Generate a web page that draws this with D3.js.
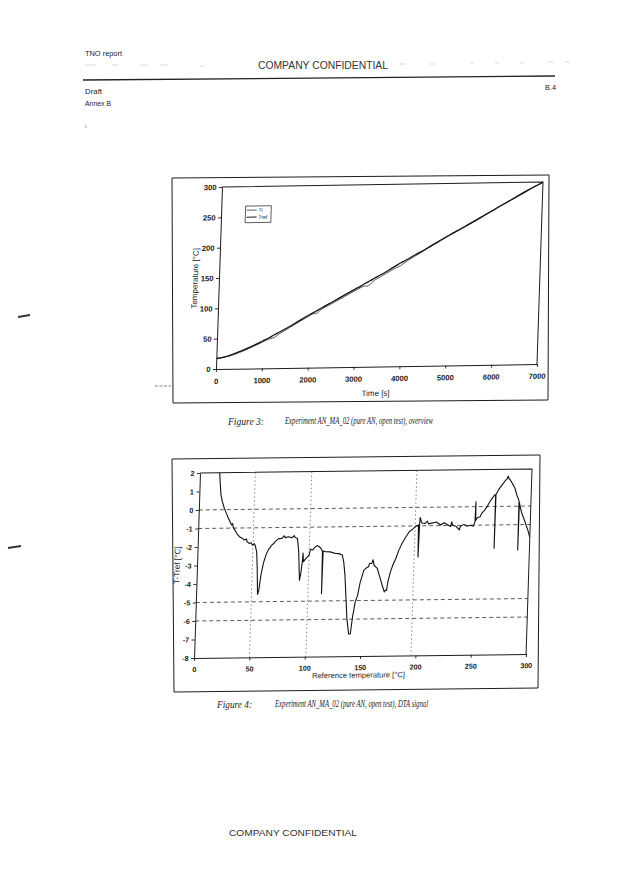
<!DOCTYPE html>
<html><head><meta charset="utf-8">
<script src="https://cdn.jsdelivr.net/npm/d3@7"></script>
<style>body{margin:0;background:#fff}svg{display:block}</style>
</head><body><svg id="page" width="620" height="877"></svg>
<script>
// ---------- Figure 3 data (time [s] vs temperature [°C]) ----------
const timeS = [0,250,500,750,1000,1150,1250,1350,1500,1750,2000,2100,2150,2250,2500,2750,3000,3100,3200,3250,3300,3400,3500,3750,3850,3950,4050,4250,4500,4750,5000,5250,5500,5750,6000,6250,6500,6750,7000];
const tRef  = [17,21,28,36,45,50.5,55,59,65,76,87,91,93,97.5,108,118.5,129,133,137.5,139.5,141.5,146,150,161,165.5,170,174,182.5,193,204,215,225.5,236,247,258,268.5,279,289.5,300];
const tI    = [17.8,20.5,26.5,34.5,43.3,48.5,50.5,56,63,74.2,85.2,89,89.2,95.2,105.6,116,126.5,130.5,133,132.8,135.5,142.5,146.8,158,162,165.5,171,180.5,192,203.2,214.2,224.5,235,246,257,268.3,280.2,290.5,298.5];
const tempTicks = [0,50,100,150,200,250,300];
const timeTicks = [0,1000,2000,3000,4000,5000,6000,7000];
const legendNames = ["Ti","Tref"];

// ---------- Figure 4 data (reference temperature [°C] vs T-Tref [°C]) ----------
const dtaRefTemp = [17,17.8,18.5,19.6,21,23,25,27,30,31,31.5,33,35,37.5,40,42,44,44.5,46.5,48,49.5,51,52,53.5,54.5,55.5,56.5,58,60,62,64,67,69,70,73,76,78,79,82,85,87,88,90,91.5,93,94,95,95.5,96,98,101,102,104,106,108,110,112,113,113.3,113.6,116,120,125,128,131,132.5,134,135.5,137,139,140.5,142,144,146,148,151,153,155,156,158,159,160,163,166,168,170,171,172,173,175,177,179.5,182,184,186,189,191,194,196,199,199.5,200,200.3,202,205,207,208,212,215,219,222,225,228,229,230,233,236,237,240,243,246,248.5,250,250.3,250.6,252,254.4,256,258.6,261,263,265,267.3,267.9,268,268.2,270,271.5,274,276,278,278.7,279.5,280.3,282.5,285,287.4,289.2,289.4,289.6,290.3,291.9,295,298.4,300];
const dtaDiff    = [2.6,2.0,1.5,0.8,0.45,0.08,-0.2,-0.46,-0.83,-0.75,-0.95,-1.1,-1.3,-1.47,-1.55,-1.65,-1.6,-1.75,-1.84,-1.8,-1.93,-1.85,-1.95,-2.3,-3.2,-4.6,-4.4,-3.57,-2.9,-2.48,-2.2,-1.94,-1.85,-1.76,-1.6,-1.59,-1.45,-1.55,-1.5,-1.56,-1.45,-1.55,-1.6,-2.32,-3.86,-3.5,-2.9,-2.4,-2.87,-2.7,-2.51,-2.2,-2.24,-2.1,-2.0,-2.06,-2.2,-2.33,-4.6,-2.3,-2.34,-2.35,-2.44,-2.45,-2.53,-2.9,-3.62,-4.8,-5.98,-6.8,-6.8,-5.9,-5.08,-4.72,-4.0,-3.36,-3.25,-3.18,-3.0,-3.0,-2.8,-3.1,-3.27,-3.83,-4.2,-4.55,-4.45,-4.47,-4.0,-3.47,-3.1,-2.75,-2.3,-2.03,-1.8,-1.49,-1.3,-1.17,-1.05,-0.95,-2.68,-0.95,-0.55,-0.85,-0.87,-0.75,-0.9,-0.85,-0.8,-0.97,-0.85,-0.95,-1.06,-0.8,-1.0,-1.05,-1.25,-1.05,-0.95,-1.05,-1.0,-1.05,-0.82,0.27,-0.75,-0.6,-0.55,-0.35,-0.18,0.05,0.27,0.45,0.64,0.6,-2.26,0.65,0.85,1.0,1.2,1.37,1.5,1.64,1.5,1.46,1.25,1.0,0.55,0.3,-2.37,0.2,0.0,-0.36,-0.82,-1.37,-1.7];
const dtaYTicks = [2,1,0,-1,-2,-3,-4,-5,-6,-7,-8];
const dtaXTicks = [0,50,100,150,200,250,300];
const dtaHLines = [0,-1,-5,-6];
const dtaVLines = [50,101,196];

// ---------- page ----------
const ink = "#1c1c1c";
const svg = d3.select("#page");
svg.append("rect").attr("width",620).attr("height",877).attr("fill","#fff");
const sans = "'Liberation Sans', Arial, sans-serif";
const serif = "'Liberation Serif', 'Times New Roman', serif";

function txt(sel, x, y, s, size, opts={}) {
  const t = sel.append("text").attr("x",x).attr("y",y).text(s)
    .attr("font-family", opts.family || sans).attr("font-size", size)
    .attr("fill", opts.fill || ink);
  if (opts.anchor) t.attr("text-anchor", opts.anchor);
  if (opts.italic) t.attr("font-style","italic");
  if (opts.len) t.attr("textLength", opts.len).attr("lengthAdjust","spacingAndGlyphs");
  if (opts.dy) t.attr("dy", opts.dy);
  return t;
}

// header
txt(svg, 85, 56, "TNO report", 6.5, {len:37});
txt(svg, 323, 69, "COMPANY CONFIDENTIAL", 10, {anchor:"middle", len:130, fill:"#333"});
svg.append("path").attr("d","M83,80 L555,76").attr("stroke","#222").attr("stroke-width",1.3).attr("fill","none");
svg.append("path").attr("d","M85,65 L96,65 M112,65 L118,65 M140,65 L148,65 M160,65 L168,65 M200,66 L204,66 M400,64 L406,64 M430,64 L435,64 M470,63 L474,63 M495,63 L499,63 M520,63 L524,63 M548,62 L553,62 M565,62 L570,62")
  .attr("stroke","#c8c8c8").attr("stroke-width",0.7);
txt(svg, 85, 94, "Draft", 6.5, {len:17});
txt(svg, 85, 106, "Annex B", 6.5, {len:26});
txt(svg, 556, 90, "B.4", 6.5, {anchor:"end", len:11});
txt(svg, 85, 128, "t", 5, {fill:"#777"});

// stray scan marks
svg.append("path").attr("d","M18,317 L30,315 M8,548 L21,546").attr("stroke","#333").attr("stroke-width",1.8);
svg.append("path").attr("d","M155,386 L171,386").attr("stroke","#555").attr("stroke-width",0.7).attr("stroke-dasharray","3,1.5");

// footer
txt(svg, 293, 836, "COMPANY CONFIDENTIAL", 9.6, {anchor:"middle", len:128, fill:"#333"});

function styleAxis(g, size) {
  g.select(".domain").attr("stroke", ink).attr("stroke-width",1);
  g.selectAll(".tick line").attr("stroke", ink).attr("stroke-width",0.9);
  g.selectAll(".tick text").attr("font-family", sans).attr("font-size", size).attr("fill", ink).attr("font-weight","bold");
}

// ================= Figure 3 =================
svg.append("path").attr("d","M172,178 L549,175 L548,400 L173,403 Z").attr("fill","none").attr("stroke",ink).attr("stroke-width",1);
const W1 = 321, H1 = 182;
const g1 = svg.append("g").attr("transform","matrix(1,-0.0156,-0.033,1,222,187)");
const x1 = d3.scaleLinear().domain([0,7000]).range([0,W1]);
const y1 = d3.scaleLinear().domain([0,300]).range([H1,0]);
g1.append("path").attr("d",`M0,0H${W1}V${H1}`).attr("fill","none").attr("stroke",ink).attr("stroke-width",1);
const ax1 = g1.append("g").attr("transform",`translate(0,${H1})`)
  .call(d3.axisBottom(x1).tickValues(timeTicks).tickSize(3).tickSizeOuter(0).tickPadding(6.5).tickFormat(d3.format("d")));
styleAxis(ax1, 7.6);
const ay1 = g1.append("g").call(d3.axisLeft(y1).tickValues(tempTicks).tickSize(3).tickSizeOuter(0).tickPadding(2.5));
styleAxis(ay1, 7.6);
txt(g1, W1/2, 211.5, "Time [s]", 8, {anchor:"middle"});
g1.append("text").attr("transform","translate(-24,91) rotate(-90)").attr("text-anchor","middle").attr("dy","0.35em")
  .attr("font-family",sans).attr("font-size",8).attr("fill",ink).text("Temperature [°C]");
g1.append("clipPath").attr("id","c1").append("rect").attr("x",0).attr("y",-4).attr("width",W1+2).attr("height",H1+4);
const line1 = d3.line().x((d,i)=>x1(timeS[i])).y(d=>y1(d)).curve(d3.curveMonotoneX);
g1.append("path").datum(tI).attr("d",line1).attr("fill","none").attr("stroke","#333").attr("stroke-width",0.8).attr("clip-path","url(#c1)");
g1.append("path").datum(tRef).attr("d",line1).attr("fill","none").attr("stroke","#111").attr("stroke-width",1.3).attr("clip-path","url(#c1)");
// legend
const lg = g1.append("g");
lg.append("rect").attr("x",24.3).attr("y",19.5).attr("width",25.7).attr("height",16.6).attr("fill","#fff").attr("stroke",ink).attr("stroke-width",0.7);
legendNames.forEach((n,i)=>{
  const yy = 23.6 + i*7;
  lg.append("line").attr("x1",25.6).attr("x2",35.6).attr("y1",yy).attr("y2",yy).attr("stroke",ink).attr("stroke-width", i ? 1.1 : 0.7);
  txt(lg, 37.3, yy, n, 5.2, {dy:"0.35em"});
});

// caption 3
txt(svg, 228, 425, "Figure 3:", 9.5, {family:serif, italic:true, len:36});
txt(svg, 285, 424, "Experiment AN_MA_02 (pure AN, open test), overview", 9.5, {family:serif, italic:true, len:148});

// ================= Figure 4 =================
svg.append("path").attr("d","M172,459 L540,455 L538,688 L174,692 Z").attr("fill","none").attr("stroke",ink).attr("stroke-width",1);
const W2 = 332, H2 = 185;
const g2 = svg.append("g").attr("transform","matrix(1,-0.012,-0.032,1,200,473)");
const x2 = d3.scaleLinear().domain([0,300]).range([0,W2]);
const y2 = d3.scaleLinear().domain([-8,2]).range([H2,0]);
// grid lines
g2.selectAll(".hl").data(dtaHLines).join("line").attr("x1",0).attr("x2",W2).attr("y1",d=>y2(d)).attr("y2",d=>y2(d))
  .attr("stroke","#333").attr("stroke-width",0.8).attr("stroke-dasharray","4,3");
g2.selectAll(".vl").data(dtaVLines).join("line").attr("x1",d=>x2(d)).attr("x2",d=>x2(d)).attr("y1",0).attr("y2",H2)
  .attr("stroke","#555").attr("stroke-width",0.7).attr("stroke-dasharray","1.5,2.5");
g2.append("path").attr("d",`M0,0H${W2}V${H2}`).attr("fill","none").attr("stroke",ink).attr("stroke-width",1);
const ax2 = g2.append("g").attr("transform",`translate(0,${H2})`)
  .call(d3.axisBottom(x2).tickValues(dtaXTicks).tickSize(3).tickSizeOuter(0).tickPadding(6).tickFormat(d3.format("d")));
styleAxis(ax2, 7.2);
const ay2 = g2.append("g").call(d3.axisLeft(y2).tickValues(dtaYTicks).tickSize(3).tickSizeOuter(0).tickPadding(2.5).tickFormat(d3.format("d")));
styleAxis(ay2, 7.2);
ay2.selectAll(".tick text").text(d => d < 0 ? "-" + Math.abs(d) : d);
txt(g2, 165, 204, "Reference temperature [°C]", 7.6, {anchor:"middle", dy:"0.35em"});
g2.append("text").attr("transform","translate(-20,92) rotate(-90)").attr("text-anchor","middle").attr("dy","0.35em")
  .attr("font-family",sans).attr("font-size",8.2).attr("fill",ink).text("T-Tref [°C]");
g2.append("clipPath").attr("id","c2").append("rect").attr("x",0).attr("y",0).attr("width",W2).attr("height",H2);
const line2 = d3.line().x((d,i)=>x2(dtaRefTemp[i])).y(d=>y2(d));
g2.append("path").datum(dtaDiff).attr("d",line2).attr("fill","none").attr("stroke","#111").attr("stroke-width",1.1)
  .attr("stroke-linejoin","round").attr("clip-path","url(#c2)");

// caption 4
txt(svg, 217, 708, "Figure 4:", 9.5, {family:serif, italic:true, len:35});
txt(svg, 275, 707, "Experiment AN_MA_02 (pure AN, open test), DTA signal", 9.5, {family:serif, italic:true, len:153});
</script>
</body></html>
